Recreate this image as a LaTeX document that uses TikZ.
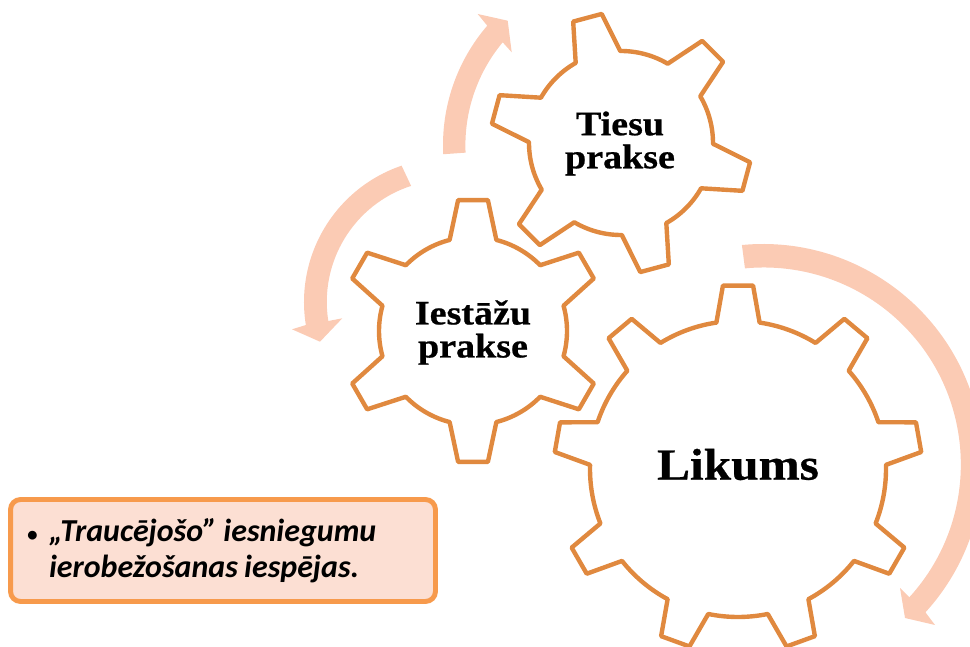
\documentclass[tikz,border=0pt]{standalone}
\usepackage{fontspec}
\setmainfont{Carlito}
\newfontfamily\gearfont[FakeStretch=1.11, BoldFeatures={FakeBold=0.6}]{Liberation Serif}
\definecolor{gear_orange}{HTML}{E0893F}
\definecolor{arrow_peach}{HTML}{FBCBB4}
\definecolor{note_fill}{HTML}{FCDFD3}
\definecolor{note_line}{HTML}{F79A4C}
\tikzset{
  gearline/.style={gear_orange, line width=2.5pt, line join=round},
  turnarrow/.style={fill=arrow_peach, draw=none},
  gearlabel/.style={font=\gearfont\bfseries\fontsize{19.5}{18.8}\selectfont, align=center},
}

\begin{document}
\begin{tikzpicture}[x=0.02cm, y=0.02cm]

  \clip (0,0) rectangle (970,646);

  % centre x / centre y / teeth / first tooth / base radius / tip radius / half angles
  \foreach \cx/\cy/\n/\first/\rb/\rt/\hb/\ht in {621/503/6/105/92/130.5/14.5/6.5,
      473/315/6/90/94/131.7/14.4/6.5, 738/177/9/90/148/184/8.4/4.7} {
    \pgfmathsetmacro{\stepa}{360/\n}
    \begin{scope}[shift={(\cx,\cy)}]
      \draw[gearline] ({\first+\hb}:\rb)
        \foreach \k [evaluate=\k as \a using \first-\stepa*\k] in {0,...,\numexpr\n-1\relax} {
          -- ({\a+\ht}:\rt) -- ({\a-\ht}:\rt) -- ({\a-\hb}:\rb)
          arc[start angle=\a-\hb, end angle=\a-\stepa+\hb, radius=\rb]
        } -- cycle;
    \end{scope}
  }

  \node[gearlabel] (tiesu) at (620,502.5) {Tiesu\\prakse};
  \node[gearlabel] (iestazu) at (473,313.5) {Iestāžu\\prakse};
  \node[font=\gearfont\bfseries\fontsize{25.3}{25.3}\selectfont] (likums) at (738,181.5) {Likums};

  % turning arrows
  \fill[turnarrow] ([shift={(626,501)}]182.9:183) arc[start angle=182.9, end angle=139.3, radius=183]
    -- (477.7,632) -- (507.7,625.3) -- (511.7,593.7) -- (502.7,603.7)
    arc[start angle=140.2, end angle=182.6, radius=161] -- cycle;
  \fill[turnarrow] ([shift={(448,344)}]108.8:144) arc[start angle=108.8, end angle=189.2, radius=144]
    -- (292,316.7) -- (320,304.3) -- (342.3,327.7) -- (328.3,325)
    arc[start angle=189, end angle=108, radius=122] -- cycle;
  \fill[turnarrow] ([shift={(763,182)}]95.5:220) arc[start angle=95.5, end angle=-42.4, radius=220]
    -- (935,21) -- (905,28) -- (900,58) -- (909.3,48.7)
    arc[start angle=-42.4, end angle=95.5, radius=197] -- cycle;

  \node[draw=note_line, fill=note_fill, line width=2.8pt, rounded corners=0.2cm, inner xsep=0.33cm,
    text width=7.84cm, minimum height=2.04cm, align=left,
    font=\bfseries\itshape\fontsize{18.2}{20.5}\selectfont] (note) at (223,95.5)
    {\spaceskip=0.2em\relax\makebox[0.44cm][l]{\scalebox{0.65}{\textbullet}}„Traucējošo” iesniegumu\\
     \hspace*{0.44cm}ierobežošanas iespējas.};

\end{tikzpicture}
\end{document}
